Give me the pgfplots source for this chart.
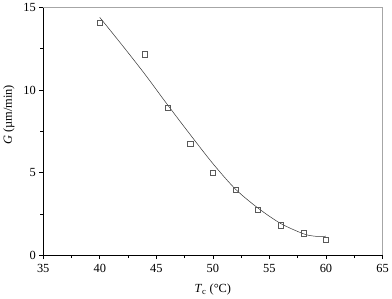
\documentclass[border=0pt]{standalone}
\usepackage{fontspec}
\setmainfont{Liberation Serif}
\usepackage{pgfplots}
\pgfplotsset{compat=1.18}
\begin{document}
\begin{tikzpicture}
\begin{axis}[
  scale only axis,
  width=341bp, height=249bp,
  xmin=35, xmax=65, ymin=0, ymax=15,
  xtick={35,40,...,65}, ytick={0,5,10,15},
  minor tick num=1,
  axis x line*=bottom, axis y line*=left,
  axis line style={-, line width=0.8pt},
  tick align=outside,
  major tick length=4bp, minor tick length=3bp,
  tick style={black, line width=0.6pt},
  /pgf/number format/assume math mode=true,
  ticklabel style={font=\fontsize{12.5}{14}\selectfont},
  xticklabel style={yshift=-2bp},
  label style={font=\fontsize{12.5}{14}\selectfont},
  xlabel={\textit{T}\textsubscript{c} (°C)},
  ylabel={\textit{G} (µm/min)},
  xlabel style={yshift=-4bp},
  ylabel style={at={(ticklabel cs:0.566)}, yshift=2bp},
  clip=false,
]
\draw[gray!70, line width=0.8pt] (rel axis cs:0,1) -- (rel axis cs:1,1) -- (rel axis cs:1,0);
\addplot[black!80, line width=0.5pt, smooth, no marks] coordinates {
(40,14.4) (42,12.7) (44,10.95) (46,9.1) (48,7.3) (50,5.55) (52,4.0) (54,2.85) (56,1.92) (58,1.3) (59,1.15) (60,1.15)
};
\addplot[only marks, mark=square, mark size=2.6pt, black!65, mark options={line width=0.5pt}] coordinates {
(40,14.05) (44,12.17) (46,8.92) (48,6.75) (50,5.0) (52,3.95) (54,2.77) (56,1.81) (58,1.33) (60,0.96)
};
\end{axis}
\end{tikzpicture}
\end{document}
